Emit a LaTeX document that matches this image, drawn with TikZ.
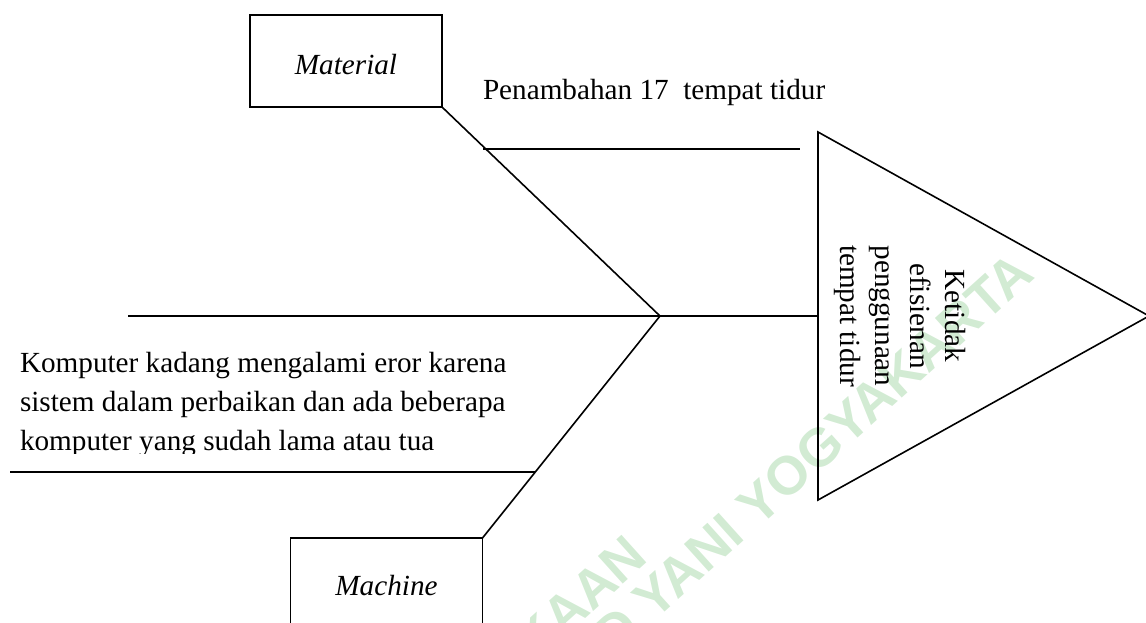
\documentclass[tikz,border=0pt]{standalone}
\usepackage{fontspec}
\setmainfont{Liberation Serif}
\newfontfamily\wmfont{Liberation Sans}[BoldFont={Liberation Sans Bold}]
\definecolor{wmgreen}{RGB}{210,235,211}
\tikzset{
  every node/.style={inner sep=0pt, outer sep=0pt},
  bone/.style={line width=0.8pt, black},
  catbox/.style={draw, line width=0.8pt, minimum width=96pt, font=\fontsize{14.6}{17}\selectfont\itshape},
  cause/.style={font=\fontsize{14.6}{19.3}\selectfont, align=left},
  effect/.style={font=\fontsize{14.6}{17.5}\selectfont, align=center, rotate=-90},
  wm/.style={font=\wmfont\bfseries\fontsize{27}{27}\selectfont, text=wmgreen, rotate=42}
}
\begin{document}
\begin{tikzpicture}[x=0.5pt,y=-0.5pt]
\useasboundingbox (0,0) rectangle (1146,622);
\clip (0,0) rectangle (1146,622);
% watermark
\node[wm, anchor=base east] (wm1) at (650,560) {PERPUSTAKAAN};
\node[wm, anchor=base east] (wm2) at (1037,277) {UNIVERSITAS JENDERAL ACHMAD YANI YOGYAKARTA};
% category boxes
\node[catbox, minimum height=46pt, text height=14pt] (mat) at (346,61) {Material};
\node[catbox, minimum height=51pt, text depth=4pt] (mach) at (386.5,589) {Machine};
% head triangle
\coordinate (t1) at (818,132);
\coordinate (t2) at (818,500);
\coordinate (t3) at (1149,316);
\coordinate (tl) at (818,316);
\draw[bone, line join=miter] (t1) -- (t3) -- (t2) -- cycle;
\node[effect] (eff) at (900,316) {Ketidak\\efisienan\\penggunaan\\tempat tidur};
% spine and bones
\coordinate (J) at (660,316);
\coordinate (sp) at (128,316);
\draw[bone] (sp) -- (tl);
\draw[bone] (mat.south east) -- (J);
\draw[bone] (mach.north east) -- (J);
% material sub-branch
\coordinate (b1s) at (483,149);
\coordinate (b1e) at (800,149);
\draw[bone] (b1s) -- (b1e);
\node[cause, anchor=base west] (c1) at (483,99) {Penambahan 17\ \ tempat tidur};
% machine sub-branch
\coordinate (b2s) at (10,472);
\coordinate (b2e) at (535,472);
\draw[bone] (b2s) -- (b2e);
\begin{scope}
\clip (0,0) rectangle (1146,453);
\node[cause, anchor=base west] (c2) at (20,450) {Komputer kadang mengalami eror karena\\sistem dalam perbaikan dan ada beberapa\\komputer yang sudah lama atau tua};
\end{scope}
\end{tikzpicture}
\end{document}
